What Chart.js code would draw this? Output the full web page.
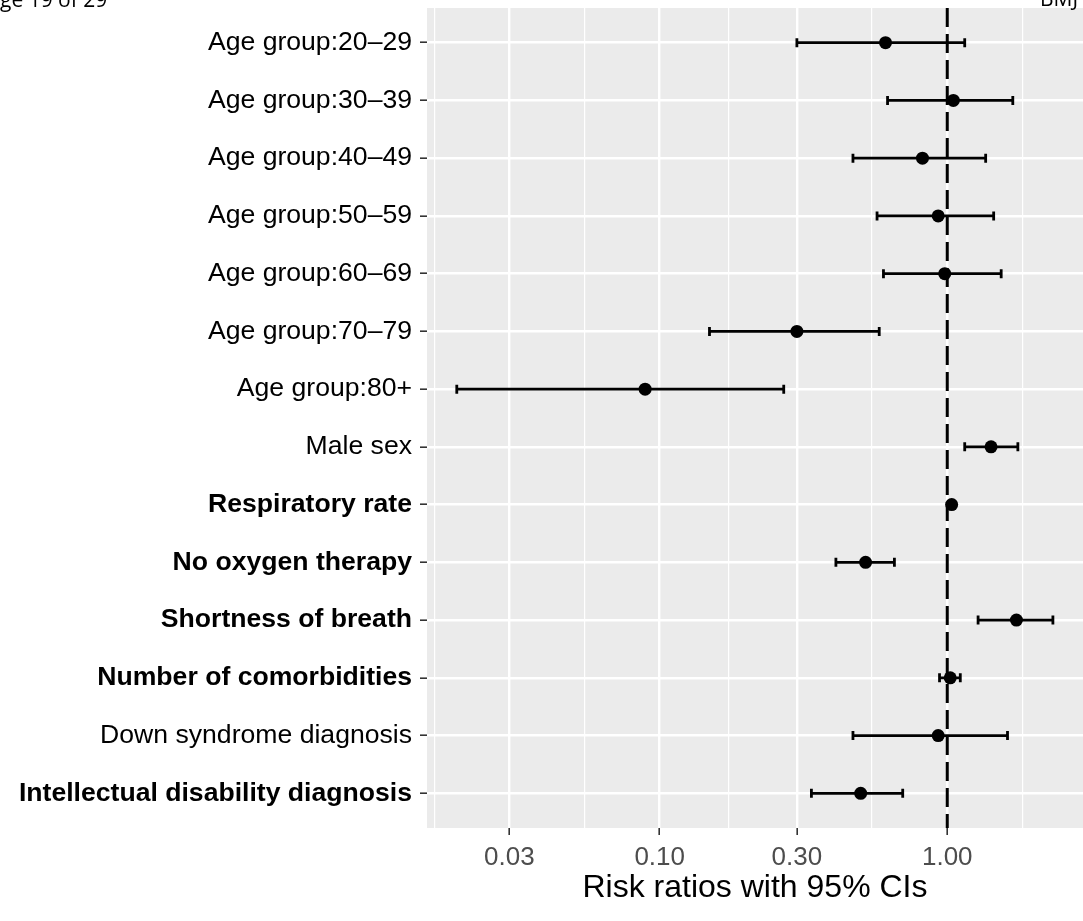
<!DOCTYPE html>
<html>
<head>
<meta charset="utf-8">
<script src="https://cdn.jsdelivr.net/npm/chart.js@4.4.0/dist/chart.umd.min.js"></script>
<style>
  html, body { margin: 0; padding: 0; background: #fff; }
  #wrap { width: 1083px; height: 921px; }
</style>
</head>
<body>
<div id="wrap"><canvas id="forest" width="1083" height="921"></canvas></div>
<script>
var labels = [
  'Age group:20\u201329', 'Age group:30\u201339', 'Age group:40\u201349', 'Age group:50\u201359',
  'Age group:60\u201369', 'Age group:70\u201379', 'Age group:80+', 'Male sex',
  'Respiratory rate', 'No oxygen therapy', 'Shortness of breath',
  'Number of comorbidities', 'Down syndrome diagnosis', 'Intellectual disability diagnosis'
];
var riskRatio = [0.61, 1.05, 0.82, 0.93, 0.98, 0.30, 0.089, 1.42, 1.036, 0.52, 1.74, 1.024, 0.93, 0.50];
var lowerCI   = [0.30, 0.62, 0.47, 0.57, 0.60, 0.149, 0.0197, 1.15, 1.02, 0.41, 1.28, 0.94, 0.47, 0.337];
var upperCI   = [1.15, 1.69, 1.36, 1.45, 1.54, 0.58, 0.27, 1.76, 1.05, 0.655, 2.33, 1.11, 1.62, 0.70];
var boldLabel = [false, false, false, false, false, false, false, false, true, true, true, true, false, true];

var xBreaks = [0.03, 0.1, 0.3, 1];
var xBreakLabels = ['0.03', '0.10', '0.30', '1.00'];
var xMin = 0.01552, xMax = 2.965;

// ggplot style minor breaks: midpoints between majors (log space)
var logB = xBreaks.map(Math.log10);
var n = logB.length;
var ext = [logB[0] - (logB[1] - logB[0])].concat(logB, [logB[n - 1] + (logB[n - 1] - logB[n - 2])]);
var minorBreaks = [];
for (var i = 0; i < ext.length - 1; i++) {
  var m = Math.pow(10, (ext[i] + ext[i + 1]) / 2);
  if (m > xMin && m < xMax) minorBreaks.push(m);
}

var FONT = "'Liberation Sans', Arial, sans-serif";

var panelBg = {
  id: 'panelBg',
  beforeDraw: function(chart) {
    var a = chart.chartArea, ctx = chart.ctx;
    ctx.save();
    ctx.fillStyle = '#EBEBEB';
    ctx.fillRect(a.left, a.top, a.right - a.left, a.bottom - a.top);
    ctx.restore();
  }
};

var errorBars = {
  id: 'errorBars',
  beforeDatasetsDraw: function(chart) {
    var ctx = chart.ctx, xs = chart.scales.x, ys = chart.scales.y, a = chart.chartArea;
    ctx.save();
    var x1 = xs.getPixelForValue(1);
    ctx.strokeStyle = '#000';
    ctx.lineWidth = 3;
    ctx.setLineDash([19, 7]);
    ctx.beginPath();
    ctx.moveTo(x1, a.top);
    ctx.lineTo(x1, a.bottom);
    ctx.stroke();
    ctx.setLineDash([]);
    ctx.lineWidth = 2.8;
    for (var i = 0; i < labels.length; i++) {
      var y = ys.getPixelForValue(i);
      var xl = xs.getPixelForValue(lowerCI[i]);
      var xu = xs.getPixelForValue(upperCI[i]);
      ctx.beginPath();
      ctx.moveTo(xl, y); ctx.lineTo(xu, y);
      ctx.moveTo(xl, y - 4.5); ctx.lineTo(xl, y + 4.5);
      ctx.moveTo(xu, y - 4.5); ctx.lineTo(xu, y + 4.5);
      ctx.stroke();
    }
    ctx.restore();
  }
};

var pageHeader = {
  id: 'pageHeader',
  afterDraw: function(chart) {
    var ctx = chart.ctx;
    ctx.save();
    ctx.font = "21px 'Open Sans', sans-serif";
    ctx.fillStyle = '#000';
    ctx.textBaseline = 'alphabetic';
    var off = ctx.measureText('Pa').width;
    ctx.fillText('Page 19 of 29', -off, 7);
    ctx.fillText('BMJ', 1040, 6);
    ctx.restore();
  }
};

var points = labels.map(function(l, i) { return { x: riskRatio[i], y: i }; });

new Chart(document.getElementById('forest'), {
  type: 'scatter',
  data: {
    datasets: [{
      data: points,
      backgroundColor: '#000',
      borderWidth: 0,
      pointRadius: 6.5,
      pointHoverRadius: 6.5
    }]
  },
  options: {
    responsive: false,
    animation: false,
    devicePixelRatio: 1,
    layout: { autoPadding: false, padding: { top: 8, left: 0, right: 0, bottom: 0 } },
    plugins: { legend: { display: false }, tooltip: { enabled: false } },
    scales: {
      x: {
        type: 'logarithmic',
        min: xMin,
        max: xMax,
        bounds: 'data',
        afterBuildTicks: function(scale) {
          var t = xBreaks.map(function(v) { return { value: v, minor: false }; })
            .concat(minorBreaks.map(function(v) { return { value: v, minor: true }; }));
          t.sort(function(a, b) { return a.value - b.value; });
          scale.ticks = t;
        },
        afterFit: function(scale) {
          scale.height = 93;
          scale.paddingLeft = 0;
          scale.paddingRight = 0;
        },
        ticks: {
          autoSkip: false,
          maxRotation: 0,
          padding: 7,
          color: '#4D4D4D',
          font: { family: FONT, size: 26 },
          callback: function(v, i, ticks) {
            if (ticks[i].minor) return '';
            return xBreakLabels[xBreaks.indexOf(v)];
          }
        },
        grid: {
          color: '#FFFFFF',
          lineWidth: function(c) { return c.tick && c.tick.minor ? 1.2 : 2.4; },
          tickColor: function(c) { return c.tick && c.tick.minor ? 'rgba(0,0,0,0)' : '#333333'; },
          tickLength: 7,
          tickWidth: 1.6
        },
        border: { display: false },
        title: {
          display: true,
          text: 'Risk ratios with 95% CIs',
          color: '#000',
          font: { family: FONT, size: 32 },
          padding: { top: 0, bottom: 14 }
        }
      },
      y: {
        type: 'linear',
        min: -0.6,
        max: 13.6,
        reverse: true,
        bounds: 'data',
        afterBuildTicks: function(scale) {
          scale.ticks = labels.map(function(l, i) { return { value: i }; });
        },
        afterFit: function(scale) {
          scale.width = 427;
          scale.paddingTop = 0;
          scale.paddingBottom = 0;
        },
        ticks: {
          autoSkip: false,
          padding: 8,
          color: '#000',
          font: function(c) {
            var b = c.tick && boldLabel[c.tick.value];
            return { family: FONT, size: 26.6, weight: b ? 'bold' : 'normal' };
          },
          callback: function(v) { return labels[v]; }
        },
        grid: {
          color: '#FFFFFF',
          lineWidth: 2.4,
          tickColor: '#333333',
          tickLength: 7,
          tickWidth: 1.6
        },
        border: { display: false }
      }
    }
  },
  plugins: [panelBg, errorBars, pageHeader]
});
</script>
</body>
</html>
